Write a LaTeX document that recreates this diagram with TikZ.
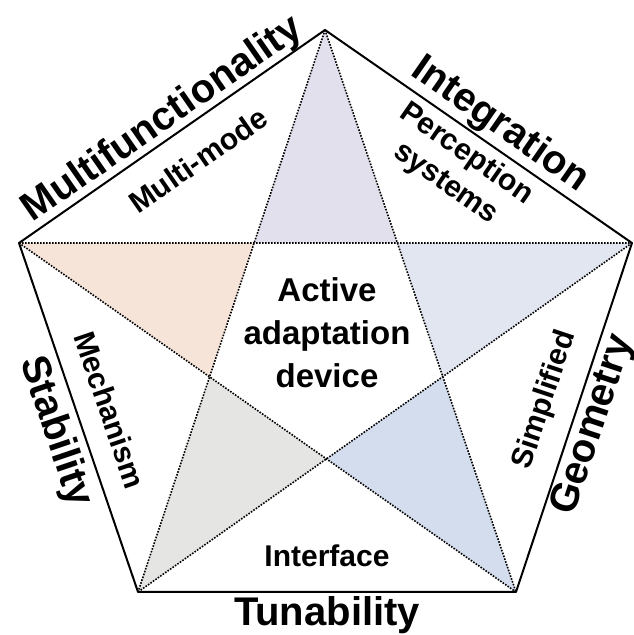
\documentclass[tikz,border=0pt]{standalone}
\usepackage{fontspec}
\setmainfont{Liberation Sans}
\usepackage{tikz}
\definecolor{toppt}{HTML}{E3E0EE}
\definecolor{leftpt}{HTML}{F6E4D9}
\definecolor{rightpt}{HTML}{E2E6F1}
\definecolor{blpt}{HTML}{E5E5E4}
\definecolor{brpt}{HTML}{D4DDEE}

\begin{document}
\begin{tikzpicture}[x=1pt, y=1pt,
    outer/.style={font=\fontsize{40}{44}\selectfont\bfseries},
    inner/.style={font=\fontsize{30}{36}\selectfont\bfseries, align=center},
    starline/.style={line width=1.6pt, dash pattern=on 1.6pt off 1.4pt}]
            \useasboundingbox (0,0) rectangle (634,635);
            % Pentagon corners
            \coordinate (T) at (325,605);
            \coordinate (L) at (19,392);
            \coordinate (R) at (632,392);
            \coordinate (BL) at (138,43);
            \coordinate (BR) at (516,43);
            % Inner corners of the star
            \coordinate (P1) at (intersection of T--BL and L--R);
            \coordinate (P2) at (intersection of T--BR and L--R);
            \coordinate (P3) at (intersection of R--BL and T--BR);
            \coordinate (P4) at (intersection of L--BR and R--BL);
            \coordinate (P5) at (intersection of L--BR and T--BL);
            % Star points
            \fill[toppt] (T) -- (P1) -- (P2) -- cycle;
            \fill[leftpt] (L) -- (P1) -- (P5) -- cycle;
            \fill[rightpt] (R) -- (P2) -- (P3) -- cycle;
            \fill[blpt] (BL) -- (P5) -- (P4) -- cycle;
            \fill[brpt] (BR) -- (P4) -- (P3) -- cycle;
            \draw[starline] (T) -- (BL) (T) -- (BR) (L) -- (R) (L) -- (BR) (R) -- (BL);
            % Pentagon
            \draw[line width=2pt, line join=round] (T) -- (R) -- (BR) -- (BL) -- (L) -- cycle;
            % Outer labels
            \node[outer, rotate=34.8] (multi) at (163,515) {Multifunctionality};
            \node[outer, rotate=-34.8] (integ) at (500,510) {Integration};
            \node[outer, rotate=-71.2] (stab) at (55,203) {Stability};
            \node[outer, rotate=71.6] (geom) at (594,210) {Geometry};
            \node[outer] (tuna) at (327,20) {Tunability};
            % Inner labels
            \node[inner, rotate=34.8] (mode) at (198,475) {Multi-mode};
            \node[inner, rotate=-34.8] (perc) at (456,466) {Perception\\systems};
            \node[inner, rotate=-71.2] (mech) at (110,225) {Mechanism};
            \node[inner, rotate=71.6] (simp) at (545,235) {Simplified};
            \node[inner] (intf) at (327,79) {Interface};
            \node[inner, font=\fontsize{33}{43}\selectfont\bfseries] (dev) at (327,302) {Active\\adaptation\\device};
        \end{tikzpicture}
\end{document}
